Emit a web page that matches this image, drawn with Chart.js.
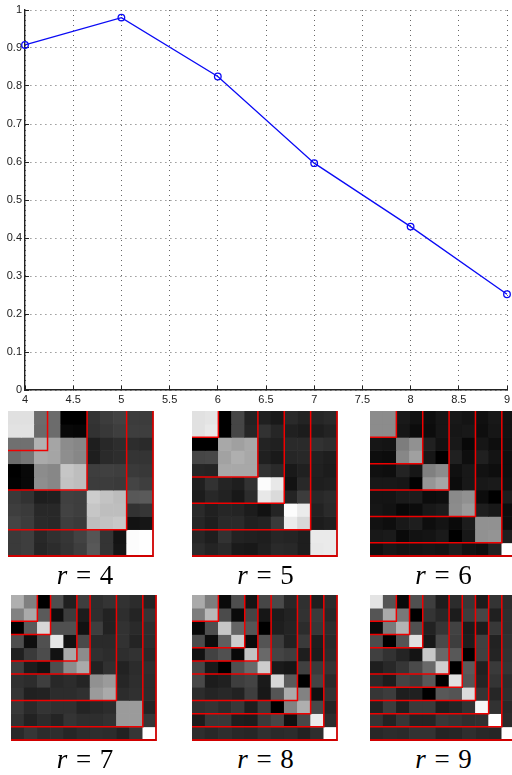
<!DOCTYPE html>
<html>
<head>
<meta charset="utf-8">
<title>Chart</title>
<script src="https://cdn.jsdelivr.net/npm/chart.js@4"></script>
<style>
    html, body { margin: 0; padding: 0; background: #fff; }
    body { position: relative; width: 512px; height: 775px; overflow: hidden; }
    canvas { position: absolute; display: block; }
    .caption {
        position: absolute;
        transform: translateX(-50%);
        font-family: "Liberation Serif", serif;
        font-size: 27px;
        line-height: 30px;
        word-spacing: 2px;
        white-space: nowrap;
        color: #000;
    }
</style>
</head>
<body>
<canvas id="lineChart" width="512" height="410" style="left:0;top:0"></canvas>
<script>
// Top plot
const xTicks = [4, 4.5, 5, 5.5, 6, 6.5, 7, 7.5, 8, 8.5, 9];
const yTicks = [0, 0.1, 0.2, 0.3, 0.4, 0.5, 0.6, 0.7, 0.8, 0.9, 1];
const ranks = [4, 5, 6, 7, 8, 9];
const scores = [0.908, 0.98, 0.825, 0.597, 0.43, 0.252];

// Block boundaries of the red boxes in each matrix
const blocks4 = [3, 6, 9, 11];
const blocks5 = [2, 5, 7, 9, 11];
const blocks6 = [2, 4, 6, 8, 10, 11];
const blocks7 = [2, 3, 5, 6, 8, 10, 11];
const blocks8 = [2, 4, 5, 6, 8, 9, 10, 11];
const blocks9 = [2, 3, 4, 6, 7, 8, 9, 10, 11];

const cells4 = [
    [224, 224, 108, 108, 0, 0, 52, 60, 66, 60, 60],
    [226, 226, 106, 108, 8, 6, 50, 56, 62, 62, 62],
    [112, 112, 178, 165, 140, 135, 30, 40, 45, 45, 42],
    [108, 118, 170, 165, 142, 135, 30, 42, 45, 52, 52],
    [0, 8, 140, 135, 198, 190, 62, 64, 62, 58, 56],
    [2, 8, 142, 135, 195, 190, 60, 60, 58, 68, 62],
    [58, 50, 30, 32, 64, 62, 205, 195, 188, 88, 90],
    [62, 58, 40, 40, 66, 62, 198, 190, 190, 50, 54],
    [68, 60, 42, 40, 62, 58, 190, 195, 200, 18, 22],
    [58, 62, 40, 48, 54, 66, 85, 52, 20, 252, 255],
    [58, 62, 38, 44, 52, 62, 88, 52, 22, 252, 255]
];
const cells5 = [
    [225, 228, 0, 70, 35, 32, 25, 42, 35, 38, 42],
    [225, 232, 0, 70, 38, 50, 38, 32, 28, 30, 35],
    [0, 0, 168, 160, 168, 35, 32, 42, 42, 50, 46],
    [70, 72, 162, 175, 168, 32, 26, 38, 40, 34, 30],
    [38, 36, 168, 168, 168, 50, 42, 25, 32, 32, 28],
    [32, 50, 36, 30, 50, 252, 232, 18, 40, 30, 32],
    [28, 40, 34, 24, 44, 232, 218, 36, 60, 40, 44],
    [42, 32, 38, 36, 28, 18, 36, 252, 235, 34, 42],
    [38, 30, 42, 42, 32, 35, 58, 235, 216, 28, 32],
    [38, 30, 50, 34, 32, 30, 38, 36, 30, 234, 234],
    [44, 36, 42, 26, 24, 32, 42, 40, 30, 232, 234]
];
const cells6 = [
    [140, 140, 25, 18, 14, 22, 24, 20, 16, 24, 18],
    [140, 140, 22, 12, 12, 22, 22, 24, 14, 22, 18],
    [22, 20, 125, 145, 32, 18, 24, 8, 22, 14, 16],
    [14, 12, 135, 160, 22, 0, 32, 14, 32, 20, 14],
    [16, 14, 35, 22, 128, 140, 16, 24, 18, 14, 14],
    [24, 24, 22, 2, 150, 165, 12, 24, 24, 26, 16],
    [20, 20, 26, 28, 12, 14, 138, 145, 12, 0, 28],
    [22, 18, 8, 12, 24, 28, 140, 155, 30, 24, 12],
    [18, 14, 24, 30, 14, 20, 10, 28, 145, 145, 12],
    [24, 26, 10, 18, 20, 26, 0, 24, 145, 148, 30],
    [16, 24, 20, 20, 22, 20, 30, 18, 14, 34, 255]
];
const cells7 = [
    [175, 128, 0, 78, 32, 62, 46, 52, 50, 44, 36],
    [130, 170, 90, 14, 60, 28, 46, 34, 46, 36, 52],
    [0, 90, 215, 80, 80, 18, 62, 34, 50, 42, 46],
    [78, 14, 80, 230, 18, 74, 42, 42, 50, 36, 44],
    [32, 58, 76, 18, 170, 140, 48, 44, 46, 50, 40],
    [62, 28, 18, 78, 140, 170, 34, 48, 34, 44, 46],
    [48, 44, 62, 40, 44, 36, 145, 155, 38, 46, 44],
    [52, 32, 34, 44, 44, 48, 155, 170, 44, 48, 44],
    [56, 42, 52, 48, 48, 36, 40, 44, 155, 155, 36],
    [50, 34, 44, 36, 52, 46, 46, 50, 155, 155, 54],
    [42, 54, 44, 46, 38, 44, 46, 44, 34, 54, 255]
];
const cells8 = [
    [170, 125, 10, 78, 20, 70, 74, 40, 48, 30, 44],
    [125, 185, 75, 10, 68, 22, 28, 34, 50, 58, 40],
    [8, 78, 198, 100, 85, 0, 30, 36, 44, 55, 46],
    [75, 12, 95, 205, 10, 84, 60, 34, 58, 30, 42],
    [18, 66, 80, 8, 195, 105, 68, 62, 30, 28, 44],
    [70, 25, 0, 80, 105, 205, 26, 22, 64, 58, 52],
    [72, 28, 32, 62, 68, 26, 215, 90, 0, 68, 42],
    [44, 36, 40, 34, 62, 24, 85, 172, 130, 16, 50],
    [48, 52, 44, 56, 30, 60, 0, 130, 175, 72, 36],
    [28, 56, 56, 30, 28, 58, 70, 16, 72, 235, 44],
    [46, 40, 46, 40, 38, 48, 42, 44, 34, 46, 255]
];
const cells9 = [
    [228, 85, 10, 80, 62, 30, 44, 55, 28, 52, 44],
    [85, 170, 120, 0, 52, 40, 28, 60, 70, 32, 46],
    [10, 122, 180, 80, 34, 54, 66, 26, 28, 56, 46],
    [76, 0, 84, 225, 24, 74, 62, 28, 64, 34, 48],
    [64, 50, 36, 20, 200, 105, 88, 0, 64, 36, 50],
    [30, 40, 54, 74, 105, 208, 0, 90, 32, 58, 52],
    [42, 28, 68, 60, 88, 0, 225, 85, 36, 52, 44],
    [54, 60, 30, 32, 0, 88, 84, 220, 52, 38, 46],
    [34, 60, 32, 58, 58, 30, 36, 50, 248, 50, 40],
    [52, 34, 54, 36, 36, 56, 52, 46, 48, 255, 42],
    [40, 44, 42, 50, 50, 36, 38, 46, 40, 38, 255]
];

function initLineChart() {
    const grid = {
        color: '#666',
        lineWidth: 1,
        drawTicks: true,
        tickLength: -4,
        tickColor: '#222',
        tickBorderDash: [],
        tickWidth: 1
    };
    const border = { display: true, color: '#222', width: 1.4, dash: [1, 4] };
    const tickFont = { family: '"Liberation Sans", Arial, sans-serif', size: 11 };

    new Chart(document.getElementById('lineChart'), {
        type: 'line',
        data: {
            datasets: [{
                data: ranks.map((r, i) => ({ x: r, y: scores[i] })),
                borderColor: '#0a0af5',
                borderWidth: 1.3,
                pointStyle: 'circle',
                pointRadius: 3.3,
                pointBorderColor: '#0a0af5',
                pointBorderWidth: 1.3,
                pointBackgroundColor: 'transparent',
                tension: 0,
                clip: false
            }]
        },
        options: {
            responsive: false,
            animation: false,
            layout: { autoPadding: false, padding: { top: 10, right: 5, left: 0, bottom: 0 } },
            plugins: { legend: { display: false }, tooltip: { enabled: false } },
            scales: {
                x: {
                    type: 'linear',
                    min: 4,
                    max: 9,
                    grid: grid,
                    border: border,
                    afterBuildTicks: axis => { axis.ticks = xTicks.map(value => ({ value })); },
                    afterFit: axis => {
                        axis.height = 20;
                        axis.paddingLeft = 0;
                        axis.paddingRight = 0;
                    },
                    ticks: {
                        color: '#222',
                        font: tickFont,
                        padding: 7,
                        maxRotation: 0,
                        autoSkip: false,
                        callback: v => String(v)
                    }
                },
                y: {
                    min: 0,
                    max: 1,
                    grid: grid,
                    border: border,
                    afterBuildTicks: axis => { axis.ticks = yTicks.map(value => ({ value })); },
                    afterFit: axis => {
                        axis.width = 25;
                        axis.paddingTop = 0;
                        axis.paddingBottom = 0;
                    },
                    ticks: {
                        color: '#222',
                        font: tickFont,
                        padding: 7,
                        autoSkip: false,
                        callback: v => String(v)
                    }
                }
            }
        }
    });
}

// One matrix: floating bars for the cells, polylines for the boxes, all on the same linear axes
function initMatrix(cells, blocks, left, top, captionX, label) {
    const size = 149;
    const pad = 2;
    const canvas = document.createElement('canvas');
    canvas.width = size;
    canvas.height = size;
    canvas.style.left = (left - pad) + 'px';
    canvas.style.top = (top - pad) + 'px';
    document.body.appendChild(canvas);

    const rows = cells.map((row, r) => ({
        type: 'bar',
        data: row.map((_, c) => ({ x: c + 0.5, y: [r, r + 1] })),
        backgroundColor: row.map(g => `rgb(${g},${g},${g})`),
        borderWidth: 0,
        barPercentage: 1,
        categoryPercentage: 1,
        order: 2
    }));
    const boxes = blocks.map(b => ({
        type: 'line',
        data: [{ x: b, y: 0 }, { x: b, y: b }, { x: 0, y: b }],
        borderColor: b === cells.length ? '#d00000' : '#f00000',
        borderWidth: b === cells.length ? 1.8 : 1.5,
        pointRadius: 0,
        tension: 0,
        clip: false,
        order: 1
    }));

    new Chart(canvas, {
        data: { datasets: rows.concat(boxes) },
        options: {
            responsive: false,
            animation: false,
            layout: { autoPadding: false, padding: pad },
            plugins: { legend: { display: false }, tooltip: { enabled: false } },
            scales: {
                x: { type: 'linear', display: false, stacked: true, offset: false, min: 0, max: cells.length },
                y: { type: 'linear', display: false, stacked: false, min: 0, max: cells.length, reverse: true }
            }
        }
    });

    const caption = document.createElement('div');
    caption.className = 'caption';
    caption.style.left = captionX + 'px';
    caption.style.top = (top + 149) + 'px';
    caption.innerHTML = '<i>r</i> = ' + label;
    document.body.appendChild(caption);
}

document.addEventListener('DOMContentLoaded', function() {
    initLineChart();
    initMatrix(cells4, blocks4, 8, 411, 85, 4);
    initMatrix(cells5, blocks5, 192, 411, 265.5, 5);
    initMatrix(cells6, blocks6, 370, 411, 443.5, 6);
    initMatrix(cells7, blocks7, 11, 595, 85, 7);
    initMatrix(cells8, blocks8, 192, 595, 265.5, 8);
    initMatrix(cells9, blocks9, 370, 595, 443.5, 9);
});
</script>
</body>
</html>
